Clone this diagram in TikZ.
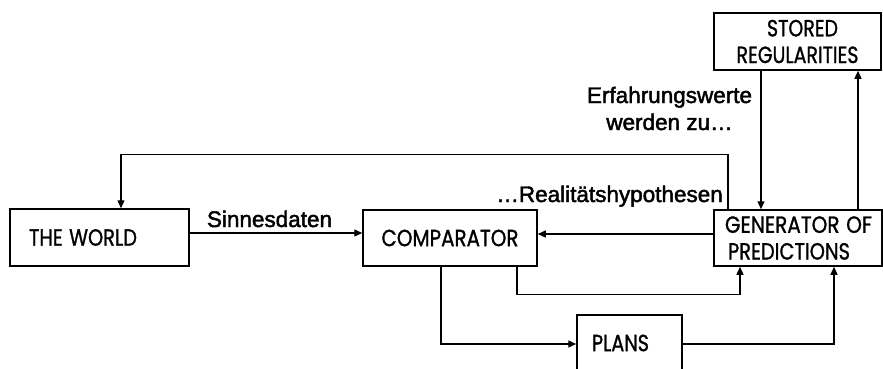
\documentclass[tikz,border=0pt]{standalone}
\usepackage{fontspec}
\usetikzlibrary{arrows.meta}
\setmainfont{Liberation Sans}
\newfontfamily\annfam[FakeBold=2]{Liberation Sans}
\newfontfamily\boxfam[FakeBold=1.2]{Poppins}
\newcommand\capfit[2]{\resizebox{#1}{16.5pt}{#2}}
\begin{document}
\begin{tikzpicture}[x=1pt,y=-1pt,
  box/.style={draw, line width=1.5pt, inner sep=0pt, font=\boxfam\fontsize{25.5}{26.7}\selectfont},
  arr/.style={line width=1.3pt, -{Triangle[length=8pt,width=7pt]}},
  ann/.style={inner sep=0pt, font=\annfam\fontsize{22.5}{27}\selectfont}]
\useasboundingbox (0,0) rectangle (883,368);
% boxes
\node[box, minimum width=179pt, minimum height=57pt, text width=141pt, align=left] (world) at (99.5,237.5) {\capfit{108pt}{THE WORLD}};
\node[box, minimum width=174pt, minimum height=56pt, align=center] (comp) at (450,238) {\capfit{137pt}{COMPARATOR}};
\node[box, minimum width=168pt, minimum height=56pt, text width=146pt, align=left] (gen) at (798,238) {\capfit{147pt}{GENERATOR OF}\\\hspace*{3pt}\capfit{122pt}{PREDICTIONS}};
\node[box, minimum width=167pt, minimum height=57pt, align=center] (stored) at (797.5,41.5) {\hspace*{10pt}\capfit{71pt}{STORED}\\\capfit{122pt}{REGULARITIES}};
\node[box, minimum width=105pt, minimum height=56pt, align=center] (plans) at (629.5,343) {\capfit{57pt}{PLANS}\hspace*{18pt}};
% labels
\node[ann, anchor=base] (sinn) at (269.5,227) {Sinnesdaten};
\node[ann, anchor=base] (erf1) at (669.5,103) {Erfahrungswerte};
\node[ann, anchor=base] (erf2) at (669.5,130) {werden zu…};
\node[ann, anchor=base east] (real) at (723,202) {…Realitätshypothesen};
% connectors
\draw[arr] ([yshift=4.5pt]world.east) -- ([yshift=4.5pt]world.east -| comp.west);
\draw[arr] ([yshift=4pt]gen.west) -- ([yshift=4pt]gen.west -| comp.east);
\draw[arr] ([xshift=-70pt]gen.north) -- ++(0,-55) -| ([xshift=21.5pt]world.north);
\draw[arr] ([xshift=-36.5pt]stored.south) -- ([xshift=-36.5pt]stored.south |- gen.north);
\draw[arr] ([xshift=60pt]gen.north) -- ([xshift=60pt]gen.north |- stored.south);
\draw[arr] ([xshift=67pt]comp.south) -- ++(0,28) -| ([xshift=-58pt]gen.south);
\draw[arr] ([xshift=-9pt]comp.south) |- ([yshift=-1pt]plans.west);
\draw[arr] ([yshift=-1pt]plans.east) -| ([xshift=36pt]gen.south);
\end{tikzpicture}
\end{document}
